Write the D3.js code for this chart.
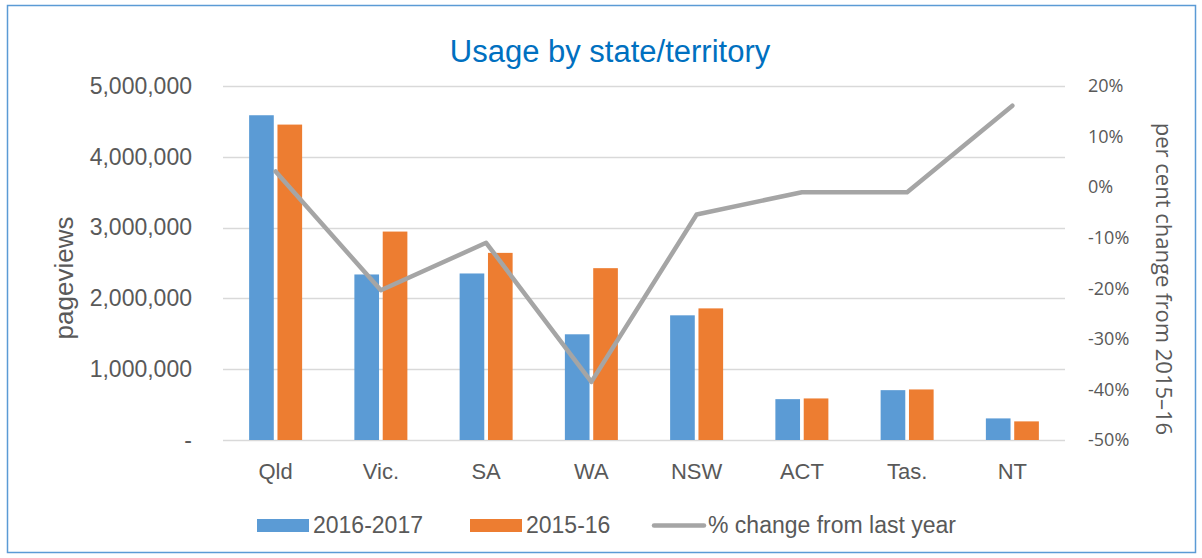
<!DOCTYPE html>
<html><head><meta charset="utf-8">
<script src="https://cdn.jsdelivr.net/npm/d3@7"></script>
<style>
html,body{margin:0;padding:0;background:#fff;}
svg{display:block;font-family:"Liberation Sans",Arial,sans-serif;}
</style></head>
<body>
<svg id="chart" width="1202" height="558"></svg>
<script>
const categories = ["Qld","Vic.","SA","WA","NSW","ACT","Tas.","NT"];
const views2017 = [4587000,2338000,2352000,1493000,1761000,577000,704000,305000];
const views2016 = [4455000,2944000,2643000,2427000,1859000,587000,714000,263000];
const pctChange = [3.1,-20.4,-11.0,-38.5,-5.4,-1.0,-1.0,16.1];
const leftTicks = [0,1000000,2000000,3000000,4000000,5000000];
const rightTicks = [-50,-40,-30,-20,-10,0,10,20];
const seriesNames = ["2016-2017","2015-16","% change from last year"];
const colors = ["#5B9BD5","#ED7D31","#A5A5A5"];

const svg = d3.select("#chart");
const L = 223, R = 1065, T = 86, B = 440;

svg.append("rect").attr("x",7.5).attr("y",5.5).attr("width",1188).attr("height",547)
  .attr("fill","#fff").attr("stroke","#5B9BD5").attr("stroke-width",1.5);

svg.append("text").attr("x",610).attr("y",62).attr("text-anchor","middle")
  .attr("font-size",31).attr("fill","#0070C0").text("Usage by state/territory");

const x = d3.scaleBand().domain(categories).range([L,R]);
const yL = d3.scaleLinear().domain([0,5000000]).range([B,T]);
const yR = d3.scaleLinear().domain([-50,20]).range([B,T]);
const inner = d3.scaleBand().domain([0,1]).range([-26.5,26.5]).paddingInner(0.13);

// gridlines
svg.append("g").selectAll("line").data(leftTicks).join("line")
  .attr("x1",L).attr("x2",R).attr("y1",d=>Math.round(yL(d))+0.5).attr("y2",d=>Math.round(yL(d))+0.5)
  .attr("stroke","#D9D9D9").attr("stroke-width",1.5);

// left axis
const fmt = d3.format(",");
const gl = svg.append("g").attr("transform",`translate(${L-28},0)`)
  .call(d3.axisLeft(yL).tickValues(leftTicks).tickSize(0).tickFormat(d=>d===0?"-":fmt(d)));
gl.select(".domain").remove();
gl.selectAll("text").attr("font-size",23).attr("fill","#595959").attr("font-family","'Liberation Sans',Arial,sans-serif");

// right axis
const gr = svg.append("g").attr("transform",`translate(${R+23},0)`)
  .call(d3.axisRight(yR).tickValues(rightTicks).tickSize(0).tickFormat(d=>d+"%"));
gr.select(".domain").remove();
gr.selectAll("text").attr("font-size",18).attr("fill","#595959").attr("x",0).attr("font-family","'Open Sans',sans-serif");

// axis titles
svg.append("text").attr("transform","translate(73,278) rotate(-90)").attr("text-anchor","middle")
  .attr("font-size",26).attr("fill","#595959").text("pageviews");
svg.append("text").attr("transform","translate(1156,279) rotate(90)").attr("text-anchor","middle")
  .attr("font-size",22).attr("fill","#595959").attr("font-family","'Open Sans',sans-serif").text("per cent change from 2015\u201316");

// category labels
svg.append("g").selectAll("text").data(categories).join("text")
  .attr("x",d=>x(d)+x.bandwidth()/2).attr("y",479).attr("text-anchor","middle")
  .attr("font-size",22).attr("fill","#595959").text(d=>d);

// bars
const series = [views2017, views2016];
series.forEach((vals,si)=>{
  svg.append("g").selectAll("rect").data(vals).join("rect")
    .attr("x",(d,i)=>x(categories[i])+x.bandwidth()/2+inner(si))
    .attr("width",inner.bandwidth())
    .attr("y",d=>yL(d)).attr("height",d=>B-yL(d))
    .attr("fill",colors[si]);
});

// line
const line = d3.line().x((d,i)=>x(categories[i])+x.bandwidth()/2).y(d=>yR(d));
svg.append("path").datum(pctChange).attr("d",line).attr("fill","none")
  .attr("stroke",colors[2]).attr("stroke-width",4.5).attr("stroke-linejoin","round").attr("stroke-linecap","round");

// legend
const lg = svg.append("g");
const legendY = 525.5;
const items = [{x:257,t:"rect"},{x:470,t:"rect"},{x:652,t:"line"}];
items.forEach((it,i)=>{
  if(it.t==="rect"){
    lg.append("rect").attr("x",it.x).attr("y",legendY-6.5).attr("width",52).attr("height",13).attr("fill",colors[i]);
  } else {
    lg.append("line").attr("x1",it.x+2).attr("x2",it.x+52).attr("y1",legendY).attr("y2",legendY)
      .attr("stroke",colors[i]).attr("stroke-width",4.5).attr("stroke-linecap","round");
  }
  lg.append("text").attr("x",it.x+56).attr("y",533).attr("font-size",23).attr("fill","#595959").text(seriesNames[i]);
});
</script>
</body></html>
